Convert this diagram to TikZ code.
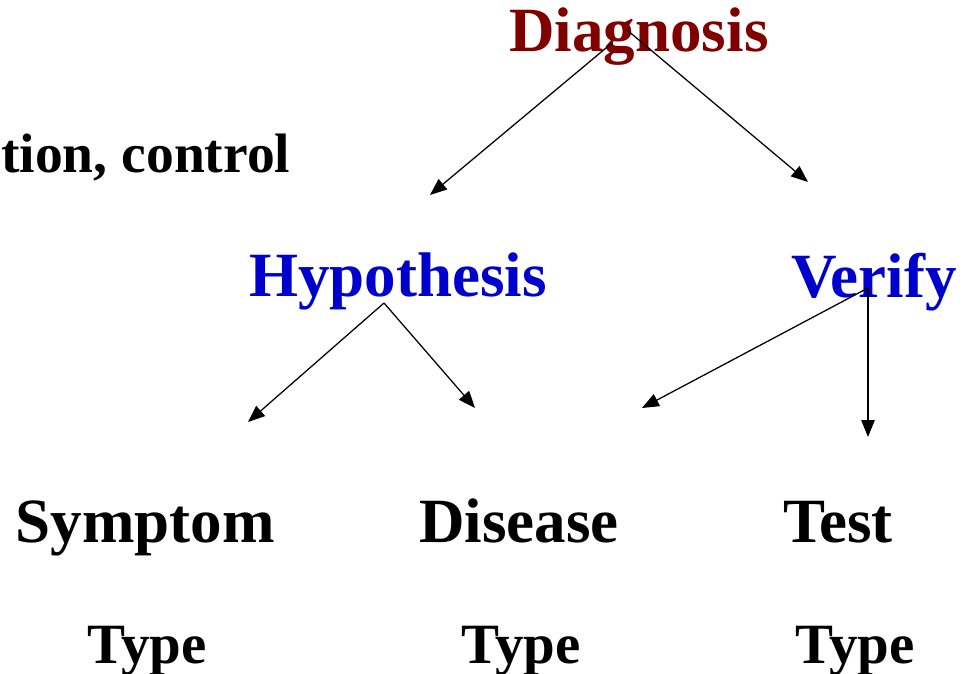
\documentclass[tikz,border=0pt]{standalone}
\usepackage{fontspec}
\setmainfont{Liberation Serif}
\usetikzlibrary{arrows.meta}
\definecolor{darkred}{HTML}{800000}
\definecolor{deepblue}{HTML}{0000CC}
\tikzset{
  every node/.style={font=\bfseries, inner sep=0pt, anchor=base},
  bigword/.style={font=\bfseries\fontsize{44.8}{50}\selectfont},
  smallword/.style={font=\bfseries\fontsize{40.5}{46}\selectfont},
  rootword/.style={bigword, text=darkred},
  midword/.style={bigword, text=deepblue},
  arrow/.style={-{Triangle[length=12pt,width=9.5pt]}, line width=0.9pt, draw=black},
}
\begin{document}
\begin{tikzpicture}[x=0.025cm, y=-0.025cm]
\useasboundingbox (0,0) rectangle (973,674);
\node[rootword] (diag) at (639,52) {Diagnosis};
\node[smallword, font=\bfseries\fontsize{39.5}{45}\selectfont, anchor=base west] (ctrl) at (1,173) {tion, control};
\node[midword] (hyp) at (398,297) {Hypothesis};
\node[midword] (ver) at (874,298) {Verify};
\node[bigword] (sym) at (145,543) {Symptom};
\node[bigword] (dis) at (519,543) {Disease};
\node[bigword] (test) at (838,543) {Test};
\node[smallword] (type1) at (147,663) {Type};
\node[smallword] (type2) at (521,663) {Type};
\node[smallword] (type3) at (855,663) {Type};
% arrow ends
\coordinate (diagL) at (612,43); \coordinate (diagR) at (627,30);
\coordinate (hypTop) at (384,303); \coordinate (verTop) at (868,288);
\coordinate (tipHyp) at (430,195); \coordinate (tipVer) at (808,182);
\coordinate (tipSym) at (248,422); \coordinate (tipDis) at (475,408);
\coordinate (tipDis2) at (642,408); \coordinate (tipTest) at (868,437);
\draw[arrow](diagL)--(tipHyp);\draw[arrow](diagR)--(tipVer);
\draw[arrow](hypTop)--(tipSym);\draw[arrow](hypTop)--(tipDis);
\draw[arrow](verTop)--(tipDis2);\draw[arrow](verTop)--(tipTest);
\end{tikzpicture}
\end{document}
